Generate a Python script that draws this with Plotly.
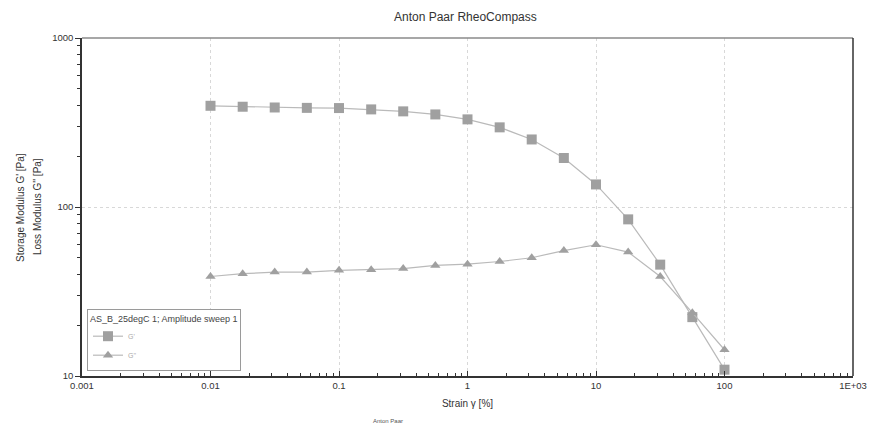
import plotly.graph_objects as go

strain = [0.01, 0.0178, 0.0316, 0.0562, 0.1, 0.178, 0.316, 0.562, 1.0, 1.78, 3.16, 5.62, 10.0, 17.8, 31.6, 56.2, 100.0]
g_storage = [397, 392, 388, 386, 385, 378, 368, 353, 330, 296, 251, 195, 136, 84.5, 45.6, 22.3, 10.9]
g_loss = [38.8, 40.3, 41.2, 41.2, 42.2, 42.6, 43.2, 45.1, 45.9, 47.6, 50.1, 55.2, 59.8, 54.1, 38.8, 23.7, 14.3]

x_tickvals = [0.001, 0.01, 0.1, 1, 10, 100, 1000]
x_ticktext = ["0.001", "0.01", "0.1", "1", "10", "100", "1E+03"]
y_tickvals = [10, 100, 1000]
y_ticktext = ["10", "100", "1000"]

x_minor = [m * d for d in x_tickvals[:-1] for m in range(2, 10)]
y_minor = [m * d for d in y_tickvals[:-1] for m in range(2, 10)]

FONT = "Liberation Sans, Arial, sans-serif"
mcol = "#a0a0a0"
lcol = "#bababa"

# page body has an 8px default margin; compensate
O = 8
W, H = 875 - O, 427 - O
L, T = 82 - O, 38 - O
R = W - (853 - O)
B = H - (376 - O)
W_plot = W - L - R
H_plot = H - T - B


def px_x(p):
    return (p - O - L) / W_plot


def px_y(p):
    return 1 - (p - O - T) / H_plot


fig = go.Figure()
fig.add_trace(go.Scatter(
    x=strain, y=g_storage, mode="lines+markers", name="G'",
    line=dict(color=lcol, width=1.2),
    marker=dict(symbol="square", size=10, color=mcol),
))
fig.add_trace(go.Scatter(
    x=strain, y=g_loss, mode="lines+markers", name="G''",
    line=dict(color=lcol, width=1.2),
    marker=dict(symbol="triangle-up", size=9, color=mcol),
))

fig.update_layout(
    width=W, height=H,
    margin=dict(l=L, r=R, t=T, b=B, autoexpand=False),
    paper_bgcolor="white", plot_bgcolor="white",
    font=dict(family=FONT, size=10, color="#333333"),
    showlegend=True,
    legend=dict(
        x=px_x(87), y=px_y(371), xanchor="left", yanchor="bottom",
        bgcolor="white", bordercolor="#9a9a9a", borderwidth=1,
        title=dict(text="AS_B_25degC 1; Amplitude sweep 1", font=dict(size=9, color="#444444")),
        font=dict(size=7, color="#aaaaaa"),
        tracegroupgap=0, itemwidth=30,
    ),
    annotations=[
        dict(text="Anton Paar RheoCompass", xref="paper", yref="paper",
             x=px_x(465), y=px_y(17), yanchor="middle", showarrow=False,
             font=dict(size=12, color="#333333")),
        dict(text="Anton Paar", xref="paper", yref="paper",
             x=px_x(388), y=px_y(421), yanchor="middle", showarrow=False,
             font=dict(size=6, color="#555555")),
        dict(text="Storage Modulus G' [Pa]", xref="paper", yref="paper",
             x=px_x(20), y=0.5, textangle=-90, xanchor="center", yanchor="middle",
             showarrow=False, font=dict(size=10, color="#333333")),
        dict(text="Loss Modulus G'' [Pa]", xref="paper", yref="paper",
             x=px_x(37), y=0.5, textangle=-90, xanchor="center", yanchor="middle",
             showarrow=False, font=dict(size=10, color="#333333")),
    ],
)

fig.update_xaxes(
    type="log", range=[-3, 3], automargin=False,
    tickmode="array", tickvals=x_tickvals, ticktext=x_ticktext,
    showgrid=True, gridcolor="#d8d8d8", griddash="dot", gridwidth=1,
    showline=True, linecolor="#333333", linewidth=1.5, mirror=False,
    ticks="inside", ticklen=5, tickcolor="#333333",
    minor=dict(tickmode="array", tickvals=x_minor, ticks="inside", ticklen=3,
               tickcolor="#333333", showgrid=False),
    title=dict(text="Strain γ [%]", font=dict(size=10), standoff=10),
    tickfont=dict(size=9.5, color="#333333"),
    zeroline=False,
)
fig.update_yaxes(
    type="log", range=[1, 3], automargin=False,
    tickmode="array", tickvals=y_tickvals, ticktext=y_ticktext,
    showgrid=True, gridcolor="#d8d8d8", griddash="dot", gridwidth=1,
    showline=True, linecolor="#333333", linewidth=1.5, mirror=False,
    ticks="outside", ticklen=5, tickcolor="#333333",
    minor=dict(tickmode="array", tickvals=y_minor, ticks="outside", ticklen=3,
               tickcolor="#333333", showgrid=False),
    tickfont=dict(size=9.5, color="#333333"),
    zeroline=False,
)
fig.add_shape(type="line", xref="paper", yref="paper", x0=0, x1=1, y0=1, y1=1,
              line=dict(color="#8a8a8a", width=1.5))
fig.add_shape(type="line", xref="paper", yref="paper", x0=1, x1=1, y0=0, y1=1,
              line=dict(color="#333333", width=1.5))

fig.write_html("out.html")
